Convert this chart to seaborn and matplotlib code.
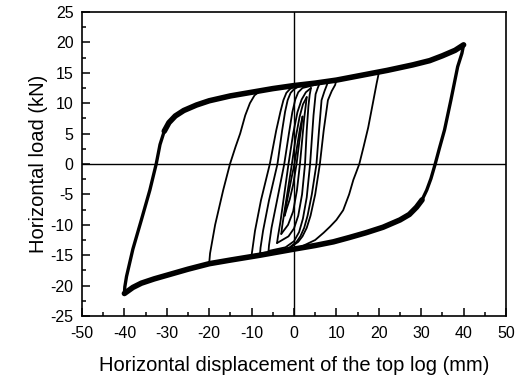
import numpy as np
import pandas as pd
import matplotlib
matplotlib.use("Agg")
import matplotlib.pyplot as plt
import seaborn as sns
from matplotlib.ticker import MultipleLocator

# ---- data (displacement mm, load kN) ----
# main cycle +/-40 mm
up40_x = [-40, -39.9, -39.5, -38, -36, -34, -32.5, -31.6, -30.6, -29.5, -28, -26, -23, -20, -15, -10, -5, 0, 5, 10, 16, 22, 28, 32, 35, 38, 40]
up40_y = [-21.3, -20.2, -18.5, -14, -9.2, -4.3, 0, 3.2, 5.4, 6.8, 7.9, 8.8, 9.7, 10.4, 11.2, 11.8, 12.4, 12.9, 13.3, 13.8, 14.6, 15.4, 16.3, 17, 17.8, 18.7, 19.6]
dn40_x = [40, 39.6, 38.6, 37, 35.5, 34.3, 33.3, 32.3, 31.3, 30.2, 28.9, 27.2, 25, 21, 17, 13, 9.3, 5, 0, -8, -15, -20, -25, -30, -33, -36, -38, -40]
dn40_y = [19.6, 18.2, 16, 10.5, 5.6, 2.6, 0, -2.4, -4.3, -5.9, -7.1, -8.3, -9.2, -10.4, -11.3, -12.1, -12.8, -13.4, -14, -15, -15.8, -16.4, -17.3, -18.3, -18.9, -19.6, -20.3, -21.3]

# +/-20 mm
up20_x = [-20, -19.8, -18.6, -16.7, -15.1, -13.8, -12.7, -11.5, -10.4, -9.3, -8, -6, 0, 10, 20]
up20_y = [-16.3, -14.7, -10, -4.3, 0, 2.8, 5, 8, 10, 11.3, 12, 12.3, 12.9, 13.8, 15]
dn20_x = [20, 19.8, 19.5, 18.6, 17.5, 16.4, 15.4, 14.6, 14, 13, 11.6, 10, 8.5, 7, 5, 2, 0, -10, -20]
dn20_y = [15, 14.3, 13.3, 10, 6, 2.8, 0, -1.5, -2.6, -5, -7.6, -9.2, -10.3, -11.3, -12.5, -13.5, -14, -15.2, -16.3]

# +/-10 mm
up10_x = [-10, -9.8, -9.2, -7.8, -5.7, -4.2, -3.2, -2.5, -1.8, -1, 0, 3, 10]
up10_y = [-15, -14, -11, -6, 0, 5.5, 8.6, 10.5, 11.7, 12.3, 12.7, 13.1, 13.8]
dn10_x = [10, 9.7, 8.9, 8, 7, 6.1, 5, 3.9, 3, 2, 1, -1, -3, -10]
dn10_y = [13.8, 13, 12, 10.5, 5.5, 0, -5, -8.5, -10.5, -11.9, -12.8, -13.8, -14.3, -15]

# +/-8 mm
up8_x = [-8, -7.9, -7.3, -5.9, -3.9, -2.8, -2.1, -1.5, -0.8, 0, 1, 4, 8]
up8_y = [-14.7, -13.8, -11, -6, 0, 5.5, 8.6, 10.5, 11.7, 12.3, 12.7, 13.2, 13.5]
dn8_x = [8, 7.7, 7.2, 6.5, 5.9, 5.3, 4.2, 3.2, 2.4, 1.5, 0.6, -1, -3, -8]
dn8_y = [13.5, 12.9, 12, 10.5, 5.5, 0, -5, -8.5, -10.5, -11.9, -12.8, -13.7, -14.2, -14.7]

# +/-6 mm
up6_x = [-6, -5.9, -5.3, -4, -2.3, -1.2, -0.4, 0.3, 1, 2, 6]
up6_y = [-14.3, -13.4, -10.5, -6, 0, 5, 8.5, 10.6, 11.8, 12.5, 13.2]
dn6_x = [6, 5.6, 5.1, 4.6, 3.8, 3, 2.1, 1.2, 0, -2, -6]
dn6_y = [13.2, 12.5, 11.5, 8, 0, -5.5, -9, -11.2, -12.7, -13.7, -14.3]

# +/-4 mm
up4_x = [-4, -3.8, -3.2, -2.4, -1.3, -0.2, 0.8, 1.8, 2.8, 4]
up4_y = [-13, -12, -9.5, -5.5, 0, 5, 8.5, 10.6, 11.8, 12.5]
dn4_x = [4, 3.7, 3.4, 3, 2.6, 1.9, 1, 0, -1.3, -4]
dn4_y = [12.5, 11.4, 9.5, 5.5, 0, -5, -8.5, -10.6, -11.9, -13]

# +/-3 mm
up3_x = [-3, -2.8, -2.3, -1.5, -0.5, 0.4, 1.3, 2.1, 3]
up3_y = [-11.5, -10.3, -8, -4.5, 0, 4.3, 7.7, 9.8, 11]
dn3_x = [3, 2.8, 2.4, 2, 1.4, 0.7, -0.2, -1.4, -3]
dn3_y = [11, 9.8, 7.5, 4.5, 0, -4.3, -7.8, -10, -11.5]

# +/-2 mm
up2_x = [-2.2, -1.9, -1.2, -0.5, 0.1, 0.8, 1.4, 2]
up2_y = [-8.5, -7, -4.5, -2, 0, 3.2, 5.8, 7.8]
dn2_x = [2, 1.8, 1.4, 0.6, -0.2, -1, -1.7, -2.2]
dn2_y = [7.8, 6.4, 4.5, 0, -3.4, -5.8, -7.3, -8.5]

branches = {
    "up40": (up40_x, up40_y), "dn40": (dn40_x, dn40_y),
    "up20": (up20_x, up20_y), "dn20": (dn20_x, dn20_y),
    "up10": (up10_x, up10_y), "dn10": (dn10_x, dn10_y),
    "up8": (up8_x, up8_y), "dn8": (dn8_x, dn8_y),
    "up6": (up6_x, up6_y), "dn6": (dn6_x, dn6_y),
    "up4": (up4_x, up4_y), "dn4": (dn4_x, dn4_y),
    "up3": (up3_x, up3_y), "dn3": (dn3_x, dn3_y),
    "up2": (up2_x, up2_y), "dn2": (dn2_x, dn2_y),
}

rows = []
for name, (xs, ys) in branches.items():
    for i, (xv, yv) in enumerate(zip(xs, ys)):
        rows.append({"branch": name, "order": i, "disp": xv, "load": yv,
                     "main": name.endswith("40")})
df = pd.DataFrame(rows)

# noisy envelope portions of the main cycle (style: drawn thicker)
main = df[df["main"]]
env = main[((main["branch"] == "up40") & (main["disp"] >= -30.6)) |
           ((main["branch"] == "dn40") & (main["disp"] <= 30.2))]

sns.set_theme(style="ticks")
plt.rcParams["font.family"] = ["Liberation Sans", "DejaVu Sans"]
plt.rcParams["axes.unicode_minus"] = False

fig = plt.figure(figsize=(5.22, 3.79), dpi=100)
ax = fig.add_axes([82/522, 1-316/379, (506-82)/522, (316-12)/379])

# zero reference lines
ax.axhline(0, color="black", lw=1.0, zorder=1)
ax.axvline(0, color="black", lw=1.0, zorder=1)

line_kw = dict(estimator=None, sort=False, color="black", ax=ax,
               solid_capstyle="round", solid_joinstyle="round")
sns.lineplot(data=main, x="disp", y="load", units="branch", lw=2.4, zorder=3, **line_kw)
sns.lineplot(data=env, x="disp", y="load", units="branch", lw=4.0, zorder=3, **line_kw)
sns.lineplot(data=df[~df["main"]], x="disp", y="load", units="branch", lw=1.3,
             zorder=2, **line_kw)

ax.set_xlim(-50, 50)
ax.set_ylim(-25, 25)
ax.xaxis.set_major_locator(MultipleLocator(10))
ax.xaxis.set_minor_locator(MultipleLocator(5))
ax.yaxis.set_major_locator(MultipleLocator(5))
ax.yaxis.set_minor_locator(MultipleLocator(2.5))
ax.tick_params(which="both", direction="in", color="black", width=1.1,
               top=False, right=False, labelsize=11.5, labelcolor="black")
ax.tick_params(axis="x", which="major", length=5.5, pad=7)
ax.tick_params(axis="y", which="major", length=5.5, pad=6)
ax.tick_params(which="minor", length=3)
for s in ax.spines.values():
    s.set_visible(True)
    s.set_color("black")
    s.set_linewidth(1.2)

ax.set_xlabel("Horizontal displacement of the top log (mm)", fontsize=14.5,
              color="black", labelpad=11)
ax.set_ylabel("Horizontal load (kN)", fontsize=14.5, color="black", labelpad=2)

fig.savefig("out.png", dpi=100)
